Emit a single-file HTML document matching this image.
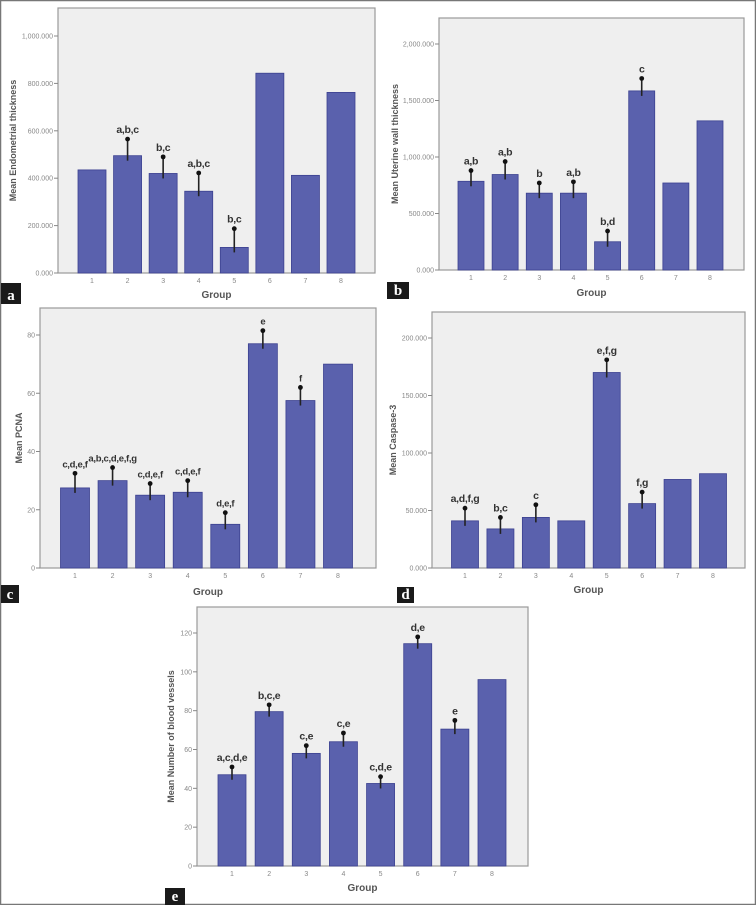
<!DOCTYPE html>
<html><head><meta charset="utf-8">
<style>
body{margin:0;background:#fff;width:756px;height:905px;overflow:hidden;font-family:"Liberation Sans",sans-serif}
svg{display:block}
</style></head>
<body>
<svg id="fig" width="756" height="905" viewBox="0 0 756 905">
<rect x="0.5" y="0.5" width="755" height="904" fill="#fff" stroke="#777" stroke-width="1.5"/>
</svg>
<script>
const categories=["1","2","3","4","5","6","7","8"];
const aValues=[435000,495000,420000,345000,108000,843000,412000,762000];
const aErr=[null,565000,490000,422000,187000,null,null,null];
const aSig=["","a,b,c","b,c","a,b,c","b,c","","",""];
const aTicks=[0,200000,400000,600000,800000,1000000];
const aTickLabels=["0.000","200.000","400.000","600.000","800.000","1,000.000"];

const bValues=[785000,845000,680000,680000,250000,1585000,770000,1320000];
const bErr=[880000,960000,770000,780000,345000,1695000,null,null];
const bSig=["a,b","a,b","b","a,b","b,d","c","",""];
const bTicks=[0,500000,1000000,1500000,2000000];
const bTickLabels=["0.000","500.000","1,000.000","1,500.000","2,000.000"];

const cValues=[27.5,30,25,26,15,77,57.5,70];
const cErr=[32.5,34.5,29,30,19,81.5,62,null];
const cSig=["c,d,e,f","a,b,c,d,e,f,g","c,d,e,f","c,d,e,f","d,e,f","e","f",""];
const cTicks=[0,20,40,60,80];
const cTickLabels=["0","20","40","60","80"];

const dValues=[41,34,44,41,170,56,77,82];
const dErr=[52,44,55,null,181,66,null,null];
const dSig=["a,d,f,g","b,c","c","","e,f,g","f,g","",""];
const dTicks=[0,50,100,150,200];
const dTickLabels=["0.000","50.000","100.000","150.000","200.000"];

const eValues=[47,79.5,58,64,42.5,114.5,70.5,96];
const eErr=[51,83,62,68.5,46,118,75,null];
const eSig=["a,c,d,e","b,c,e","c,e","c,e","c,d,e","d,e","e",""];
const eTicks=[0,20,40,60,80,100,120];
const eTickLabels=["0","20","40","60","80","100","120"];

const NS="http://www.w3.org/2000/svg";
const svg=document.getElementById('fig');
function mk(tag,attrs,parent){const e=document.createElementNS(NS,tag);for(const k in attrs)e.setAttribute(k,attrs[k]);(parent||svg).appendChild(e);return e;}

function panel(id,cfg,values,err,sig,ticks,tickLabels){
  const g=mk('g',{});
  
  
  const {L,R,T,B,topVal,c1,c8,bw}=cfg;
  const y=v=>B-(v/topVal)*(B-cfg.topY0);
  const x=i=>c1+i*(c8-c1)/7;
  const box=mk('rect',{x:L,y:T,width:R-L,height:B-T,fill:'#efefef',stroke:'#999','stroke-width':1.2},g);
  
  
  ticks.forEach((t,i)=>{
    const yy=y(t);
    const tk=mk('line',{x1:L-4,x2:L,y1:yy,y2:yy,stroke:'#888'},g);
    
    
    const tl=mk('text',{x:L-5,y:yy+2.5,'text-anchor':'end','font-size':'7','fill':'#888'},g);
    tl.textContent=tickLabels[i];
    
    
  });
  categories.forEach((c,i)=>{
    const cx=x(i);
    const bar=mk('rect',{x:cx-bw/2,y:y(values[i]),width:bw,height:B-y(values[i]),fill:'#5a61ad',stroke:'#3c4190','stroke-width':0.8},g);
    
    
    const xl=mk('text',{x:cx,y:B+10,'text-anchor':'middle','font-size':'7','fill':'#888'},g);
    xl.textContent=c;
    
    
    let topY=y(values[i]);
    if(err[i]!=null){
      const ey=y(err[i]);topY=ey;
      const el=mk('line',{x1:cx,x2:cx,y1:y(values[i])+5,y2:ey,stroke:'#222','stroke-width':1.6},g);
      
      
      const dot=mk('circle',{cx:cx,cy:ey,r:2.4,fill:'#111'},g);
      
      
    }
    if(sig[i]){
      const st=mk('text',{x:cx,y:topY-6,'text-anchor':'middle','font-size':cfg.sigSize||'10.5','font-weight':'bold','fill':'#333','letter-spacing':'-0.3'},g);
      st.textContent=sig[i];
      
      
    }
  });
  const xt=mk('text',{x:(L+R)/2,y:cfg.groupY,'text-anchor':'middle','font-size':'10','font-weight':'bold','fill':'#555'},g);
  xt.textContent='Group';
  
  
  const yt=mk('text',{x:0,y:0,'text-anchor':'middle','font-size':'9','font-weight':'bold','fill':'#555',transform:`translate(${cfg.ytX},${(T+B)/2}) rotate(-90)`},g);
  yt.textContent=cfg.ytitle;
  
  
  const lb=mk('rect',{x:cfg.lab[0],y:cfg.lab[1],width:cfg.lab[2],height:cfg.lab[3],fill:'#1a1a1a'},g);
  
  
  const lt=mk('text',{x:cfg.lab[0]+cfg.lab[2]/2,y:cfg.lab[1]+cfg.lab[3]-4,'text-anchor':'middle','font-size':'15','font-weight':'bold','fill':'#fff','font-family':'Liberation Serif, serif'},g);
  lt.textContent=id;
  
  
}

panel('a',{L:58,R:375,T:8,B:273,topY0:36,topVal:1000000,c1:92,c8:341,bw:28,groupY:298,ytX:16,ytitle:'Mean Endometrial thickness',lab:[1,283,20,21]},aValues,aErr,aSig,aTicks,aTickLabels);
panel('b',{L:439,R:744,T:18,B:270,topY0:44,topVal:2000000,c1:471,c8:710,bw:26,groupY:296,ytX:398,ytitle:'Mean Uterine wall thickness',lab:[387,282,22,17]},bValues,bErr,bSig,bTicks,bTickLabels);
panel('c',{L:40,R:376,T:308,B:568,topY0:335,topVal:80,c1:75,c8:338,bw:29,groupY:595,ytX:22,ytitle:'Mean PCNA',lab:[1,585,18,18],sigSize:'9.5'},cValues,cErr,cSig,cTicks,cTickLabels);
panel('d',{L:432,R:745,T:312,B:568,topY0:338,topVal:200,c1:465,c8:713,bw:27,groupY:593,ytX:396,ytitle:'Mean Caspase-3',lab:[397,587,17,16]},dValues,dErr,dSig,dTicks,dTickLabels);
panel('e',{L:197,R:528,T:607,B:866,topY0:633,topVal:120,c1:232,c8:492,bw:28,groupY:891,ytX:174,ytitle:'Mean Number of blood vessels',lab:[165,888,20,17]},eValues,eErr,eSig,eTicks,eTickLabels);
</script>
</body></html>
